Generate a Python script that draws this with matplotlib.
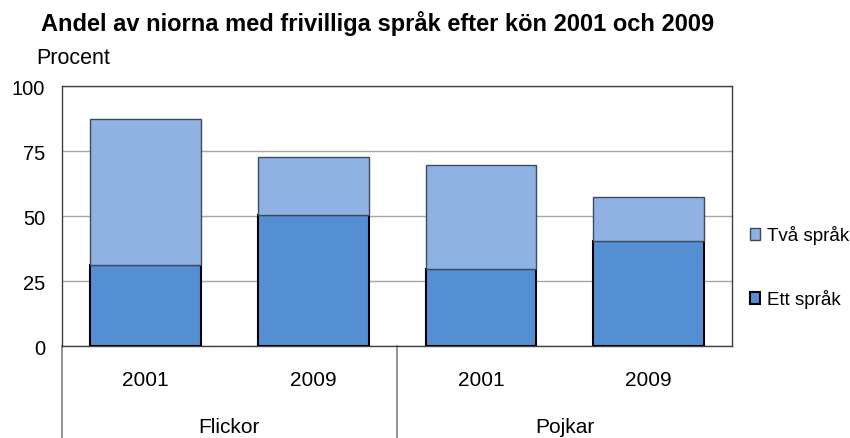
import matplotlib.pyplot as plt
from matplotlib.lines import Line2D

plt.rcParams['font.family'] = ['Liberation Sans', 'DejaVu Sans']

years = ["2001", "2009", "2001", "2009"]
groups = ["Flickor", "Pojkar"]
ett_sprak = [31.3, 50.6, 29.7, 40.4]
tva_sprak = [56.1, 22.2, 40.0, 17.1]   # stacked on top of ett_sprak

fig = plt.figure(figsize=(8.5, 4.39), dpi=100)
ax = fig.add_axes([0.0726, 0.2089, 0.789, 0.5922])

x = range(len(years))
b1 = ax.bar(x, ett_sprak, width=0.66, color="#548FD4", edgecolor="black", linewidth=1.5, zorder=3, label="Ett språk")
b2 = ax.bar(x, tva_sprak, width=0.66, bottom=ett_sprak, color="#8FB2E2", edgecolor="#3C4A5E",
            linewidth=1.0, zorder=3, label="Två språk")

ax.set_xlim(-0.5, 3.5)
ax.set_ylim(0, 100)
ax.set_yticks([0, 25, 50, 75, 100])
ax.tick_params(axis="y", length=0, labelsize=14.5, pad=12)
ax.set_xticks(list(x))
ax.set_xticklabels(years, fontsize=15)
ax.tick_params(axis="x", length=0, pad=17)
ax.grid(axis="y", color="#A6A6A6", linewidth=1, zorder=0)
for s in ax.spines.values():
    s.set_color("#404040")
    s.set_linewidth(1)

# group separators and labels below the axis
trans = ax.get_xaxis_transform()
for xv in [0, 0.5]:
    ax.add_line(Line2D([xv, xv], [0, -0.40], transform=ax.transAxes, color="#808080",
                       linewidth=1.2, clip_on=False))
ax.text(0.5, -0.31, groups[0], transform=trans, ha="center", va="center", fontsize=15)
ax.text(2.5, -0.31, groups[1], transform=trans, ha="center", va="center", fontsize=15)

fig.text(41 / 850, 1 - 23 / 439, "Andel av niorna med frivilliga språk efter kön 2001 och 2009",
         fontsize=17, fontweight="bold", ha="left", va="center")
fig.text(36 / 850, 1 - 59 / 439, "Procent", fontsize=15.5, ha="left", va="center")

fig.legend([b2, b1], ["Två språk", "Ett språk"], loc="center left",
           bbox_to_anchor=(750 / 850, 1 - 268 / 439), frameon=False, fontsize=13.5,
           labelspacing=2.4, handlelength=0.55, handleheight=0.55, handletextpad=0.35,
           borderpad=0, borderaxespad=0)

fig.savefig("out.png", dpi=100)
